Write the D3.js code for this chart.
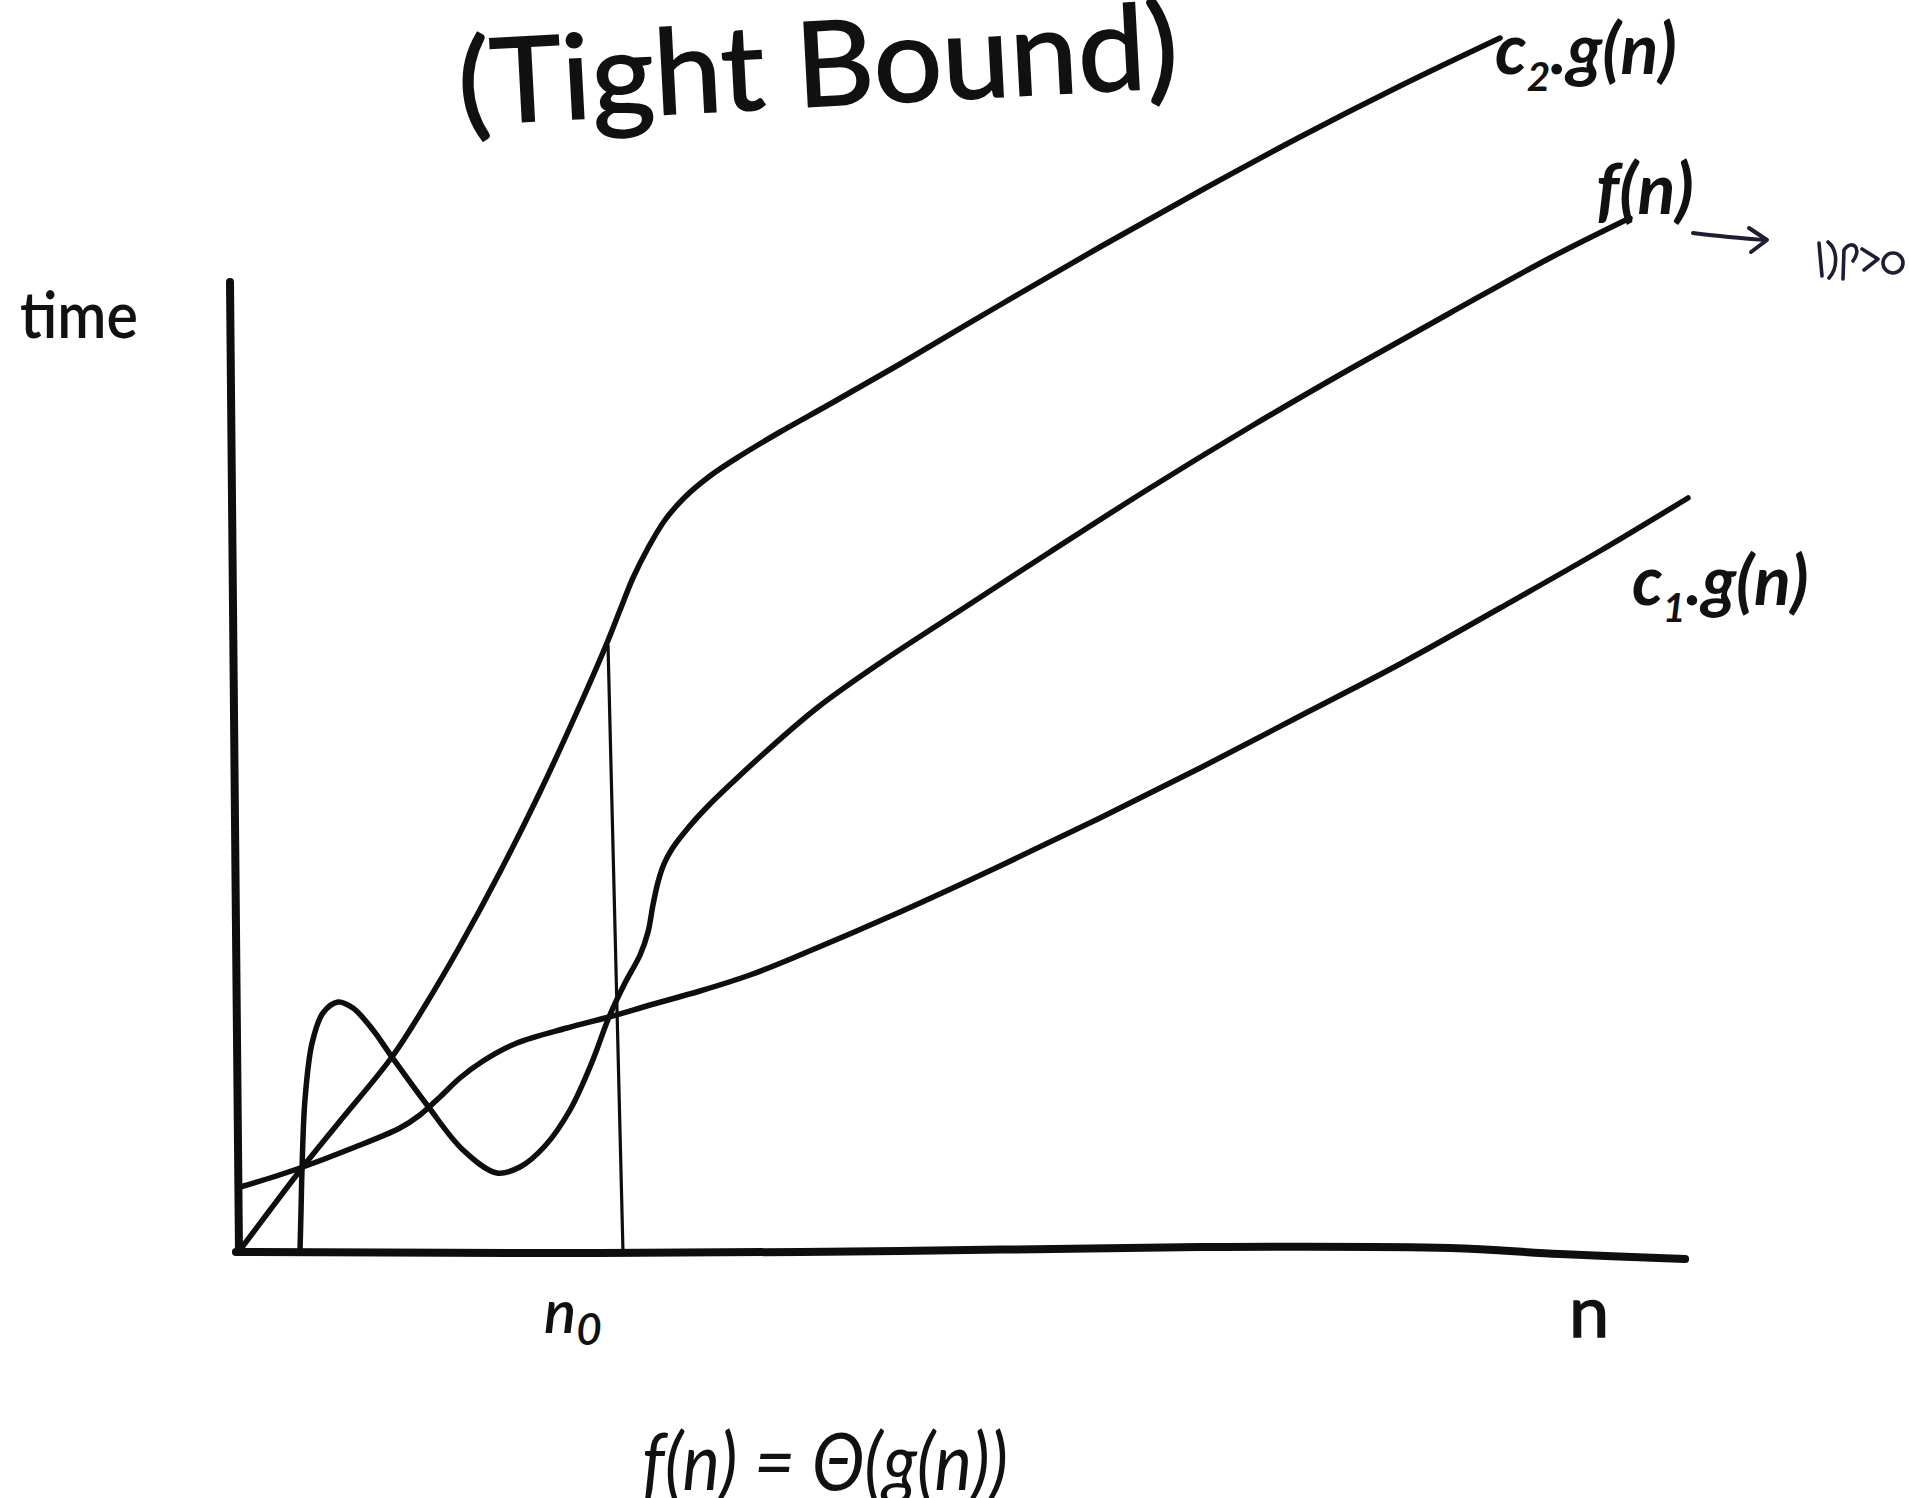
<!DOCTYPE html>
<html>
<head>
<meta charset="utf-8">
<script src="https://cdn.jsdelivr.net/npm/d3@7"></script>
<style>
  html, body { margin: 0; padding: 0; background: #ffffff; }
  svg { display: block; }
  text { fill: #111; }
</style>
</head>
<body>
<svg id="chart" width="1909" height="1498"></svg>
<script>
// Theta-notation sketch: f(n) squeezed between c1·g(n) and c2·g(n) after n0.
// Each series is a list of [n, time] points.
const upperBound = [ // c2·g(n)
  [0, 0], [2.07, 4.0], [4.28, 8.2], [6.90, 12.9], [10.48, 19.3], [12.83, 24.6],
  [15.17, 30.4], [17.93, 37.8], [20.69, 45.8], [23.45, 54.5], [25.31, 60.7],
  [26.21, 64.0], [27.10, 67.2], [28.14, 70.2], [29.31, 73.0], [30.69, 75.3],
  [32.41, 77.4], [34.48, 79.4], [37.24, 81.8], [40.69, 84.6], [45.52, 88.6],
  [52.41, 94.5], [59.31, 100.3], [66.21, 105.9], [73.10, 111.3], [80.00, 116.4],
  [86.90, 121.2]
];
const fn = [ // f(n)
  [4.14, 0], [4.21, 4.0], [4.28, 8.2], [4.48, 15.0], [4.97, 20.7], [5.72, 23.7],
  [6.76, 24.8], [7.79, 24.2], [9.17, 22.0], [10.48, 19.3], [12.90, 14.5],
  [15.38, 10.0], [17.72, 7.7], [19.31, 8.3], [21.03, 10.4], [22.76, 14.0],
  [24.28, 18.8], [25.45, 23.3], [26.55, 26.7], [27.59, 29.5], [28.14, 31.8],
  [28.48, 34.5], [28.83, 36.8], [29.24, 38.6], [29.79, 40.1], [30.90, 42.2],
  [32.28, 44.4], [34.14, 47.0], [35.86, 49.3], [39.79, 54.2], [44.34, 58.9],
  [48.97, 63.3], [55.86, 69.8], [62.76, 76.2], [69.66, 82.3], [76.55, 88.1],
  [83.45, 93.7], [90.34, 99.2], [95.86, 103.2]
];
const lowerBound = [ // c1·g(n)
  [0, 6.3], [2.07, 7.2], [4.14, 8.2], [7.59, 10.1], [11.03, 12.2], [12.41, 13.5],
  [13.79, 15.3], [15.17, 17.2], [16.76, 18.9], [19.10, 20.7], [22.55, 22.2],
  [25.45, 23.3], [28.28, 24.5], [31.72, 25.9], [35.17, 27.5], [38.62, 29.5],
  [45.52, 33.8], [52.41, 38.4], [59.31, 43.2], [66.21, 48.2], [73.10, 53.4],
  [80.00, 58.6], [86.90, 64.2], [93.79, 69.9], [99.86, 75.2]
];
const thresholdLine = [[25.38, 60.5], [26.41, 0]]; // n0 marker
const timeAxis = [[-0.07, -0.2], [-0.69, 96.8]];
const nAxis = [
  [-0.28, -0.2], [24.83, -0.3], [45.52, -0.1], [66.21, 0.3],
  [83.45, 0.2], [91.03, -0.4], [99.66, -0.9]
];
const titleText = "(Tight Bound)";
const axisTitles = ["time", "n"];
const formula = "f(n) = \u0398(g(n))";

const svg = d3.select("#chart");
const W = 1909, H = 1498;
svg.append("rect").attr("width", W).attr("height", H).attr("fill", "#ffffff");

const x = d3.scaleLinear().domain([0, 100]).range([240, 1690]);
const y = d3.scaleLinear().domain([0, 125]).range([1250, 0]);

const smooth = d3.line()
  .x(d => x(d[0])).y(d => y(d[1]))
  .curve(d3.curveCatmullRom.alpha(0.5));
const straight = d3.line().x(d => x(d[0])).y(d => y(d[1]));

const ink = "#0e0e0e";
const font = "Lato, Carlito, 'Open Sans', sans-serif";

// axes
svg.append("path").attr("d", straight(timeAxis))
  .attr("fill", "none").attr("stroke", ink).attr("stroke-width", 8).attr("stroke-linecap", "round");
svg.append("path").attr("d", smooth(nAxis))
  .attr("fill", "none").attr("stroke", ink).attr("stroke-width", 8).attr("stroke-linecap", "round");

// n0 marker
svg.append("path").attr("d", straight(thresholdLine))
  .attr("fill", "none").attr("stroke", ink).attr("stroke-width", 3.2);

// curves
[upperBound, fn, lowerBound].forEach(series => {
  svg.append("path").attr("d", smooth(series))
    .attr("fill", "none").attr("stroke", ink).attr("stroke-width", 5.5)
    .attr("stroke-linecap", "round").attr("stroke-linejoin", "round");
});

// title
svg.append("text")
  .attr("transform", "translate(460,125) rotate(-3)")
  .attr("font-family", font).attr("font-size", 118)
  .attr("stroke", "#111").attr("stroke-width", 1.6)
  .attr("textLength", 721).attr("lengthAdjust", "spacingAndGlyphs")
  .text(titleText);

// axis titles
svg.append("text").attr("x", 20).attr("y", 338)
  .attr("font-family", font).attr("font-size", 66).attr("font-weight", 600)
  .attr("textLength", 118).attr("lengthAdjust", "spacingAndGlyphs")
  .text(axisTitles[0]);
svg.append("text").attr("x", 1569).attr("y", 1337)
  .attr("font-family", font).attr("font-size", 72)
  .attr("stroke", "#111").attr("stroke-width", 1.5)
  .text(axisTitles[1]);

// n0
const n0Label = svg.append("text").attr("x", 544).attr("y", 1333)
  .attr("font-family", font).attr("font-size", 60).attr("font-style", "italic").attr("font-weight", 600);
n0Label.append("tspan").text("n");
n0Label.append("tspan").attr("dy", 12).attr("font-size", 44).text("0");

// curve labels
function boundLabel(px, py, sub, size) {
  const t = svg.append("text").attr("x", px).attr("y", py)
    .attr("font-family", font).attr("font-size", size).attr("font-style", "italic").attr("font-weight", 700);
  t.append("tspan").text("c");
  t.append("tspan").attr("dy", 17).attr("font-size", size * 0.58).text(sub);
  t.append("tspan").attr("dy", -17).text(".g(n)");
  return t;
}
boundLabel(1495, 74, "2", 70);
boundLabel(1632, 605, "1", 68);

svg.append("text").attr("x", 1596).attr("y", 214)
  .attr("font-family", font).attr("font-size", 70).attr("font-style", "italic").attr("font-weight", 700)
  .text("f(n)");

// pen annotation next to f(n)
const pen = "#1d1d33";
svg.append("path").attr("d", "M1693,233 C1715,236 1740,238 1764,240")
  .attr("fill", "none").attr("stroke", pen).attr("stroke-width", 4).attr("stroke-linecap", "round");
svg.append("path").attr("d", "M1749,228 L1767,240 L1751,252")
  .attr("fill", "none").attr("stroke", pen).attr("stroke-width", 4)
  .attr("stroke-linecap", "round").attr("stroke-linejoin", "round");
svg.append("path")
  .attr("d", "M1819,243 L1822,276 M1828,242 C1838,250 1838,268 1829,278 " +
             "M1843,279 L1844,250 C1851,239 1863,247 1853,261 " +
             "M1862,249 L1878,259 L1864,270 M1883,263 a10,10 0 1,0 20,0 a10,10 0 1,0 -20,0")
  .attr("fill", "none").attr("stroke", pen).attr("stroke-width", 3.6)
  .attr("stroke-linecap", "round").attr("stroke-linejoin", "round");

// formula
svg.append("text").attr("x", 642).attr("y", 1490)
  .attr("font-family", font).attr("font-size", 80).attr("font-style", "italic")
  .attr("textLength", 366).attr("lengthAdjust", "spacingAndGlyphs")
  .text(formula);
</script>
</body>
</html>
